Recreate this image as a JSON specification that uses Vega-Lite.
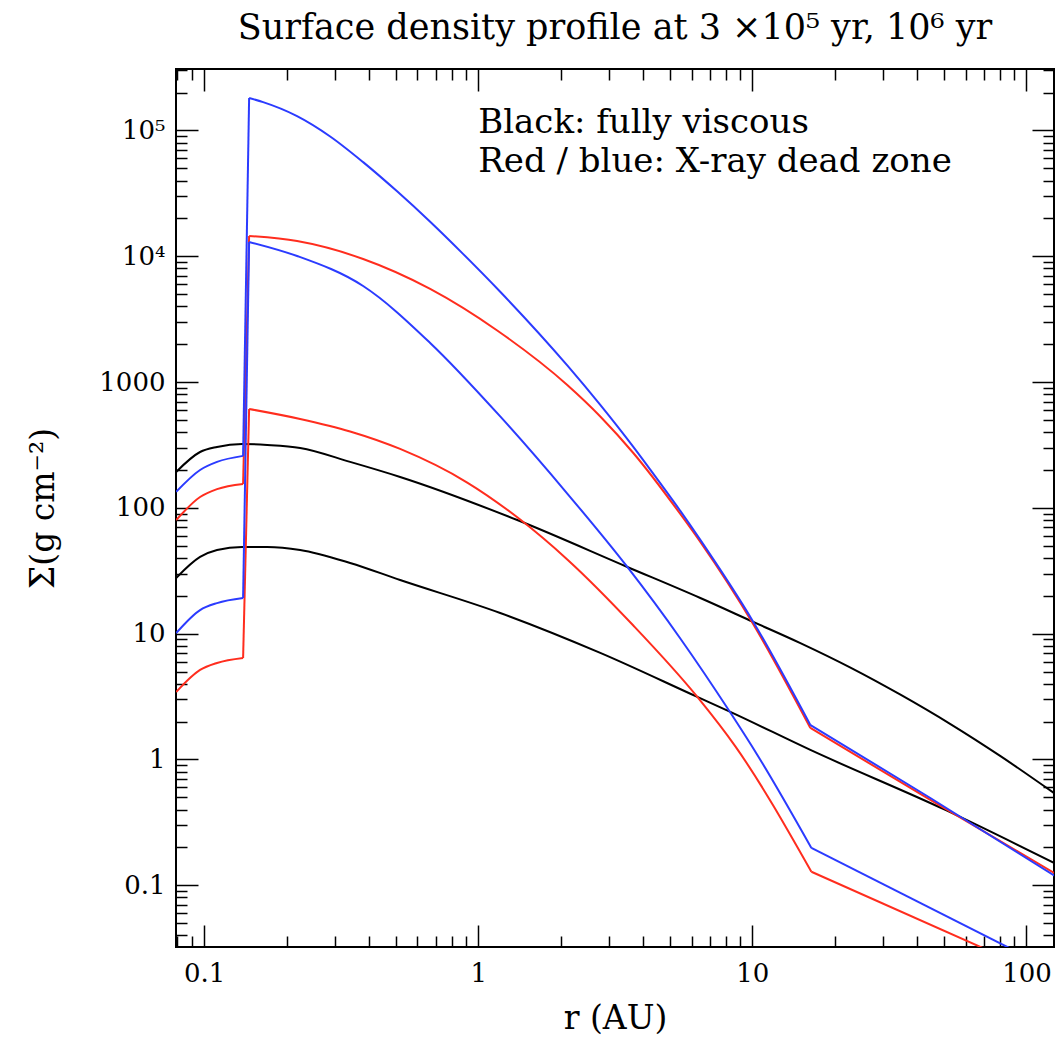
{
  "$schema": "https://vega.github.io/schema/vega-lite/v6.json",
  "width": 878,
  "height": 878,
  "autosize": {"type": "none"},
  "padding": {"left": 176, "top": 69, "right": 10, "bottom": 94},
  "background": "white",
  "title": {"text": "Surface density profile at 3 ×10⁵ yr, 10⁶ yr", "font": "DejaVu Serif", "fontSize": 35, "fontWeight": "normal", "color": "black", "anchor": "middle", "baseline": "alphabetic", "offset": -6},
  "data": {"values": [
    {"series": "k1", "group": "black", "r": 0.0791, "S": 193},
    {"series": "k1", "group": "black", "r": 0.0967, "S": 278},
    {"series": "k1", "group": "black", "r": 0.1115, "S": 305},
    {"series": "k1", "group": "black", "r": 0.1377, "S": 322},
    {"series": "k1", "group": "black", "r": 0.170, "S": 316},
    {"series": "k1", "group": "black", "r": 0.2241, "S": 299},
    {"series": "k1", "group": "black", "r": 0.341, "S": 232},
    {"series": "k1", "group": "black", "r": 0.519, "S": 176},
    {"series": "k1", "group": "black", "r": 1.388, "S": 80},
    {"series": "k1", "group": "black", "r": 3.499, "S": 33.9},
    {"series": "k1", "group": "black", "r": 6.46, "S": 19.2},
    {"series": "k1", "group": "black", "r": 10.08, "S": 12.4},
    {"series": "k1", "group": "black", "r": 14.97, "S": 8.41},
    {"series": "k1", "group": "black", "r": 22.8, "S": 5.37},
    {"series": "k1", "group": "black", "r": 34.7, "S": 3.27},
    {"series": "k1", "group": "black", "r": 52.8, "S": 1.91},
    {"series": "k1", "group": "black", "r": 80.4, "S": 1.062},
    {"series": "k1", "group": "black", "r": 126.5, "S": 0.537},
    {"series": "k2", "group": "black", "r": 0.0791, "S": 27.7},
    {"series": "k2", "group": "black", "r": 0.0967, "S": 40.7},
    {"series": "k2", "group": "black", "r": 0.1115, "S": 46.3},
    {"series": "k2", "group": "black", "r": 0.1377, "S": 48.9},
    {"series": "k2", "group": "black", "r": 0.170, "S": 48.9},
    {"series": "k2", "group": "black", "r": 0.2241, "S": 46.3},
    {"series": "k2", "group": "black", "r": 0.341, "S": 36.5},
    {"series": "k2", "group": "black", "r": 0.519, "S": 26.7},
    {"series": "k2", "group": "black", "r": 1.203, "S": 14.6},
    {"series": "k2", "group": "black", "r": 2.788, "S": 7.03},
    {"series": "k2", "group": "black", "r": 6.30, "S": 3.14},
    {"series": "k2", "group": "black", "r": 8.31, "S": 2.39},
    {"series": "k2", "group": "black", "r": 16.28, "S": 1.19},
    {"series": "k2", "group": "black", "r": 50.6, "S": 0.397},
    {"series": "k2", "group": "black", "r": 126.5, "S": 0.150},

    {"series": "r1-left", "group": "red", "r": 0.0791, "S": 80},
    {"series": "r1-left", "group": "red", "r": 0.0967, "S": 122},
    {"series": "r1-left", "group": "red", "r": 0.1115, "S": 141},
    {"series": "r1-left", "group": "red", "r": 0.1388, "S": 155},
    {"series": "r1-jump", "group": "red", "r": 0.1388, "S": 155},
    {"series": "r1-jump", "group": "red", "r": 0.1460, "S": 14500},
    {"series": "r1-mid", "group": "red", "r": 0.1460, "S": 14500},
    {"series": "r1-mid", "group": "red", "r": 0.2184, "S": 13200},
    {"series": "r1-mid", "group": "red", "r": 0.3804, "S": 9510},
    {"series": "r1-mid", "group": "red", "r": 0.668, "S": 5500},
    {"series": "r1-mid", "group": "red", "r": 1.173, "S": 2570},
    {"series": "r1-mid", "group": "red", "r": 2.113, "S": 948},
    {"series": "r1-mid", "group": "red", "r": 2.788, "S": 533},
    {"series": "r1-mid", "group": "red", "r": 3.68, "S": 273},
    {"series": "r1-mid", "group": "red", "r": 5.46, "S": 89.4},
    {"series": "r1-mid", "group": "red", "r": 6.46, "S": 53.6},
    {"series": "r1-mid", "group": "red", "r": 10.08, "S": 11.9},
    {"series": "r1-mid", "group": "red", "r": 16.28, "S": 1.78},
    {"series": "r1-tail", "group": "red", "r": 16.28, "S": 1.78},
    {"series": "r1-tail", "group": "red", "r": 44.6, "S": 0.477},
    {"series": "r1-tail", "group": "red", "r": 126.5, "S": 0.125},

    {"series": "r2-left", "group": "red", "r": 0.0791, "S": 3.44},
    {"series": "r2-left", "group": "red", "r": 0.0967, "S": 5.15},
    {"series": "r2-left", "group": "red", "r": 0.1115, "S": 5.85},
    {"series": "r2-left", "group": "red", "r": 0.1388, "S": 6.41},
    {"series": "r2-jump", "group": "red", "r": 0.1388, "S": 6.41},
    {"series": "r2-jump", "group": "red", "r": 0.1460, "S": 611},
    {"series": "r2-mid", "group": "red", "r": 0.1460, "S": 611},
    {"series": "r2-mid", "group": "red", "r": 0.2241, "S": 509},
    {"series": "r2-mid", "group": "red", "r": 0.341, "S": 405},
    {"series": "r2-mid", "group": "red", "r": 0.519, "S": 294},
    {"series": "r2-mid", "group": "red", "r": 0.912, "S": 159},
    {"series": "r2-mid", "group": "red", "r": 1.423, "S": 80.7},
    {"series": "r2-mid", "group": "red", "r": 2.113, "S": 38.9},
    {"series": "r2-mid", "group": "red", "r": 3.68, "S": 11.6},
    {"series": "r2-mid", "group": "red", "r": 6.30, "S": 3.14},
    {"series": "r2-mid", "group": "red", "r": 8.67, "S": 1.27},
    {"series": "r2-mid", "group": "red", "r": 16.42, "S": 0.128},
    {"series": "r2-tail", "group": "red", "r": 16.42, "S": 0.128},
    {"series": "r2-tail", "group": "red", "r": 126.5, "S": 0.0177},

    {"series": "b1-left", "group": "blue", "r": 0.0791, "S": 134},
    {"series": "b1-left", "group": "blue", "r": 0.0967, "S": 200},
    {"series": "b1-left", "group": "blue", "r": 0.1115, "S": 232},
    {"series": "b1-left", "group": "blue", "r": 0.1388, "S": 259},
    {"series": "b1-jump", "group": "blue", "r": 0.1388, "S": 259},
    {"series": "b1-jump", "group": "blue", "r": 0.1460, "S": 181000},
    {"series": "b1-mid", "group": "blue", "r": 0.1460, "S": 181000},
    {"series": "b1-mid", "group": "blue", "r": 0.1642, "S": 168000},
    {"series": "b1-mid", "group": "blue", "r": 0.2184, "S": 130000},
    {"series": "b1-mid", "group": "blue", "r": 0.2884, "S": 89600},
    {"series": "b1-mid", "group": "blue", "r": 0.3804, "S": 56000},
    {"series": "b1-mid", "group": "blue", "r": 0.506, "S": 32800},
    {"series": "b1-mid", "group": "blue", "r": 0.668, "S": 18800},
    {"series": "b1-mid", "group": "blue", "r": 0.882, "S": 10400},
    {"series": "b1-mid", "group": "blue", "r": 1.203, "S": 5220},
    {"series": "b1-mid", "group": "blue", "r": 2.113, "S": 1355},
    {"series": "b1-mid", "group": "blue", "r": 2.788, "S": 658},
    {"series": "b1-mid", "group": "blue", "r": 3.68, "S": 305},
    {"series": "b1-mid", "group": "blue", "r": 4.244, "S": 201},
    {"series": "b1-mid", "group": "blue", "r": 5.46, "S": 94.5},
    {"series": "b1-mid", "group": "blue", "r": 6.46, "S": 55.6},
    {"series": "b1-mid", "group": "blue", "r": 10.08, "S": 12.4},
    {"series": "b1-mid", "group": "blue", "r": 16.28, "S": 1.88},
    {"series": "b1-tail", "group": "blue", "r": 16.28, "S": 1.88},
    {"series": "b1-tail", "group": "blue", "r": 44.6, "S": 0.494},
    {"series": "b1-tail", "group": "blue", "r": 126.5, "S": 0.119},

    {"series": "b2-left", "group": "blue", "r": 0.0791, "S": 10.1},
    {"series": "b2-left", "group": "blue", "r": 0.0967, "S": 15.4},
    {"series": "b2-left", "group": "blue", "r": 0.1115, "S": 17.5},
    {"series": "b2-left", "group": "blue", "r": 0.1388, "S": 19.2},
    {"series": "b2-jump", "group": "blue", "r": 0.1388, "S": 19.2},
    {"series": "b2-jump", "group": "blue", "r": 0.1460, "S": 13000},
    {"series": "b2-mid", "group": "blue", "r": 0.1460, "S": 13000},
    {"series": "b2-mid", "group": "blue", "r": 0.2184, "S": 10050},
    {"series": "b2-mid", "group": "blue", "r": 0.3804, "S": 5800},
    {"series": "b2-mid", "group": "blue", "r": 0.668, "S": 2046},
    {"series": "b2-mid", "group": "blue", "r": 1.203, "S": 533},
    {"series": "b2-mid", "group": "blue", "r": 2.113, "S": 130},
    {"series": "b2-mid", "group": "blue", "r": 3.499, "S": 33.9},
    {"series": "b2-mid", "group": "blue", "r": 5.46, "S": 9.16},
    {"series": "b2-mid", "group": "blue", "r": 8.31, "S": 2.36},
    {"series": "b2-mid", "group": "blue", "r": 10.43, "S": 1.086},
    {"series": "b2-mid", "group": "blue", "r": 16.42, "S": 0.198},
    {"series": "b2-tail", "group": "blue", "r": 16.42, "S": 0.198},
    {"series": "b2-tail", "group": "blue", "r": 126.5, "S": 0.0209}
  ]},
  "layer": [
    {
      "mark": {"type": "line", "clip": true, "strokeWidth": 2, "interpolate": "monotone"},
      "encoding": {
        "x": {"field": "r", "type": "quantitative",
          "scale": {"type": "log", "domain": [0.079, 126], "nice": false, "zero": false},
          "axis": {"orient": "bottom", "values": [0.1, 1, 10, 100], "format": "~g", "labelFlush": false, "labelOverlap": false, "ticks": false, "labelPadding": 13, "title": "r (AU)", "titleFontSize": 33, "titlePadding": 16}},
        "y": {"field": "S", "type": "quantitative",
          "scale": {"type": "log", "domain": [0.0323, 308000], "nice": false, "zero": false},
          "axis": {"orient": "left", "values": [0.1, 1, 10, 100, 1000, 10000, 100000], "labelExpr": "datum.value == 10000 ? '10⁴' : datum.value == 100000 ? '10⁵' : format(datum.value, '~g')", "labelFlush": false, "labelOverlap": false, "ticks": false, "labelPadding": 11, "title": "Σ(g cm⁻²)", "titleFontSize": 33, "titlePadding": 38}},
        "color": {"field": "group", "type": "nominal", "scale": {"domain": ["black", "red", "blue"], "range": ["#000000", "#ff2d1e", "#2b3bff"]}, "legend": null},
        "detail": {"field": "series"}
      }
    },
    {
      "data": {"values": [{"t": "Black: fully viscous"}]},
      "mark": {"type": "text", "font": "DejaVu Serif", "fontSize": 34, "align": "left", "baseline": "alphabetic", "color": "black"},
      "encoding": {
        "x": {"datum": 1.0, "type": "quantitative", "scale": {"type": "log", "domain": [0.079, 126], "nice": false, "zero": false}, "axis": null},
        "y": {"datum": 96000, "type": "quantitative", "scale": {"type": "log", "domain": [0.0323, 308000], "nice": false, "zero": false}, "axis": null},
        "text": {"field": "t"}}
    },
    {
      "data": {"values": [{"t": "Red / blue: X-ray dead zone"}]},
      "mark": {"type": "text", "font": "DejaVu Serif", "fontSize": 34, "align": "left", "baseline": "alphabetic", "color": "black"},
      "encoding": {
        "x": {"datum": 1.0, "type": "quantitative", "scale": {"type": "log", "domain": [0.079, 126], "nice": false, "zero": false}, "axis": null},
        "y": {"datum": 46800, "type": "quantitative", "scale": {"type": "log", "domain": [0.0323, 308000], "nice": false, "zero": false}, "axis": null},
        "text": {"field": "t"}}
    },
    {
      "mark": {"type": "point", "opacity": 0},
      "encoding": {
        "x": {"field": "r", "type": "quantitative", "scale": {"type": "log", "domain": [0.079, 126], "nice": false, "zero": false},
          "axis": {"orient": "bottom", "values": [0.1, 1, 10, 100], "labels": false, "tickSize": -22, "title": null}},
        "y": {"field": "S", "type": "quantitative", "scale": {"type": "log", "domain": [0.0323, 308000], "nice": false, "zero": false},
          "axis": {"orient": "left", "values": [0.1, 1, 10, 100, 1000, 10000, 100000], "labels": false, "tickSize": -22, "title": null}}
      }
    },
    {
      "mark": {"type": "point", "opacity": 0},
      "encoding": {
        "x": {"field": "r", "type": "quantitative", "scale": {"type": "log", "domain": [0.079, 126], "nice": false, "zero": false},
          "axis": {"orient": "bottom", "values": [0.08, 0.09, 0.2, 0.3, 0.4, 0.5, 0.6, 0.7, 0.8, 0.9, 2, 3, 4, 5, 6, 7, 8, 9, 20, 30, 40, 50, 60, 70, 80, 90], "labels": false, "tickSize": -11, "title": null}},
        "y": {"field": "S", "type": "quantitative", "scale": {"type": "log", "domain": [0.0323, 308000], "nice": false, "zero": false},
          "axis": {"orient": "left", "values": [0.04, 0.05, 0.06, 0.07, 0.08, 0.09, 0.2, 0.3, 0.4, 0.5, 0.6, 0.7, 0.8, 0.9, 2, 3, 4, 5, 6, 7, 8, 9, 20, 30, 40, 50, 60, 70, 80, 90, 200, 300, 400, 500, 600, 700, 800, 900, 2000, 3000, 4000, 5000, 6000, 7000, 8000, 9000, 20000, 30000, 40000, 50000, 60000, 70000, 80000, 90000, 200000, 300000], "labels": false, "tickSize": -11, "title": null}}
      }
    },
    {
      "mark": {"type": "point", "opacity": 0},
      "encoding": {
        "x": {"field": "r", "type": "quantitative", "scale": {"type": "log", "domain": [0.079, 126], "nice": false, "zero": false},
          "axis": {"orient": "top", "values": [0.1, 1, 10, 100], "labels": false, "tickSize": -22, "title": null}},
        "y": {"field": "S", "type": "quantitative", "scale": {"type": "log", "domain": [0.0323, 308000], "nice": false, "zero": false},
          "axis": {"orient": "right", "values": [0.1, 1, 10, 100, 1000, 10000, 100000], "labels": false, "tickSize": -22, "title": null}}
      }
    },
    {
      "mark": {"type": "point", "opacity": 0},
      "encoding": {
        "x": {"field": "r", "type": "quantitative", "scale": {"type": "log", "domain": [0.079, 126], "nice": false, "zero": false},
          "axis": {"orient": "top", "values": [0.08, 0.09, 0.2, 0.3, 0.4, 0.5, 0.6, 0.7, 0.8, 0.9, 2, 3, 4, 5, 6, 7, 8, 9, 20, 30, 40, 50, 60, 70, 80, 90], "labels": false, "tickSize": -11, "title": null}},
        "y": {"field": "S", "type": "quantitative", "scale": {"type": "log", "domain": [0.0323, 308000], "nice": false, "zero": false},
          "axis": {"orient": "right", "values": [0.04, 0.05, 0.06, 0.07, 0.08, 0.09, 0.2, 0.3, 0.4, 0.5, 0.6, 0.7, 0.8, 0.9, 2, 3, 4, 5, 6, 7, 8, 9, 20, 30, 40, 50, 60, 70, 80, 90, 200, 300, 400, 500, 600, 700, 800, 900, 2000, 3000, 4000, 5000, 6000, 7000, 8000, 9000, 20000, 30000, 40000, 50000, 60000, 70000, 80000, 90000, 200000, 300000], "labels": false, "tickSize": -11, "title": null}}
      }
    }
  ],
  "resolve": {"scale": {"x": "independent", "y": "independent"}},
  "config": {
    "view": {"stroke": "black", "strokeWidth": 2},
    "axis": {"domain": false, "grid": false, "tickColor": "black", "tickWidth": 1.5, "labelFont": "DejaVu Serif", "labelFontSize": 26, "labelColor": "black", "titleFont": "DejaVu Serif", "titleFontWeight": "normal", "titleColor": "black"}
  }
}
